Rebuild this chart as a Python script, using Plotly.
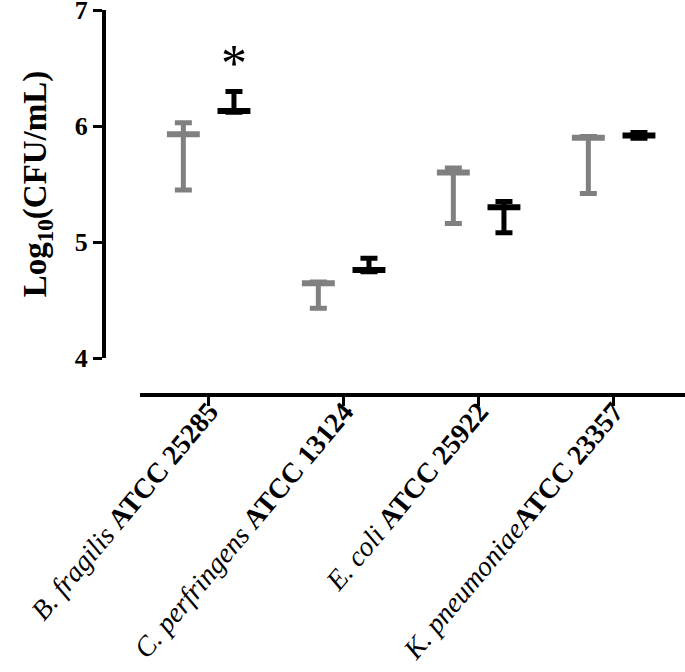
import plotly.graph_objects as go

# ---- data ----
species = ["B. fragilis", "C. perfringens", "E. coli", "K. pneumoniae"]
strains = ["ATCC 25285", "ATCC 13124", "ATCC 25922", "ATCC 23357"]
separators = [" ", " ", " ", ""]

gray_mean = [5.93, 4.645, 5.60, 5.90]
gray_upper = [6.03, 4.655, 5.64, 5.91]
gray_lower = [5.45, 4.43, 5.16, 5.42]

black_mean = [6.13, 4.76, 5.30, 5.92]
black_upper = [6.30, 4.86, 5.35, 5.945]
black_lower = [6.12, 4.745, 5.08, 5.895]

y_ticks = [4, 5, 6, 7]
star_label = "*"
star_index = 0
star_value = 6.54

# ---- derived ----
cat_pos = list(range(len(species)))
gray_x = [p - 0.19 for p in cat_pos]
black_x = [p + 0.185 for p in cat_pos]
tick_text = [f"<i>{s}</i>{sep}<b>{a}</b>" for s, sep, a in zip(species, separators, strains)]

GRAY = "#808080"
BLACK = "#000000"
FONT = "Liberation Serif"


def series(x, mean, upper, lower, color):
    return go.Scatter(
        x=x,
        y=mean,
        mode="markers",
        showlegend=False,
        cliponaxis=False,
        marker=dict(symbol="line-ew", size=23.5, color=color,
                    line=dict(color=color, width=6)),
        error_y=dict(
            type="data",
            symmetric=False,
            array=[u - m for u, m in zip(upper, mean)],
            arrayminus=[m - l for m, l in zip(mean, lower)],
            color=color,
            thickness=5,
            width=8.5,
        ),
    )


fig = go.Figure()
fig.add_trace(series(gray_x, gray_mean, gray_upper, gray_lower, GRAY))
fig.add_trace(series(black_x, black_mean, black_upper, black_lower, BLACK))

fig.add_annotation(
    x=black_x[star_index], y=star_value, xref="x", yref="y",
    text=star_label, showarrow=False,
    font=dict(family=FONT, size=52, color=BLACK),
    yanchor="middle",
)

fig.update_layout(
    width=685,
    height=672,
    margin=dict(l=104, r=0, t=10, b=277, autoexpand=False),
    paper_bgcolor="white",
    plot_bgcolor="white",
    font=dict(family=FONT, color=BLACK),
    xaxis=dict(
        domain=[36 / 581, 1],
        anchor="free",
        position=0,
        range=[-0.511, 3.526],
        tickmode="array",
        tickvals=cat_pos,
        ticktext=tick_text,
        tickangle=-50,
        ticks="outside",
        ticklen=9,
        tickwidth=3,
        tickcolor=BLACK,
        ticklabelstandoff=-22,
        ticklabeloverflow="allow",
        showline=True,
        linewidth=4,
        linecolor=BLACK,
        showgrid=False,
        zeroline=False,
        automargin=False,
        tickfont=dict(family=FONT, size=28, color=BLACK),
    ),
    yaxis=dict(
        domain=[37 / 385, 1],
        anchor="free",
        position=0,
        range=[4, 7.002],
        tickmode="array",
        tickvals=y_ticks,
        ticktext=[f"<b>{v}</b>" for v in y_ticks],
        ticks="outside",
        ticklen=9,
        tickwidth=3,
        tickcolor=BLACK,
        ticklabeloverflow="allow",
        showline=True,
        linewidth=4,
        linecolor=BLACK,
        showgrid=False,
        zeroline=False,
        automargin=False,
        tickfont=dict(family=FONT, size=26, color=BLACK),
        title=dict(
            text="<b>Log<sub>10</sub>(CFU/mL)</b>",
            font=dict(family=FONT, size=33, color=BLACK),
            standoff=17,
        ),
    ),
)

fig.write_html(
    "out.html",
    config={"displayModeBar": False},
    post_script="document.body.style.margin='0';document.body.style.overflow='hidden';",
)
